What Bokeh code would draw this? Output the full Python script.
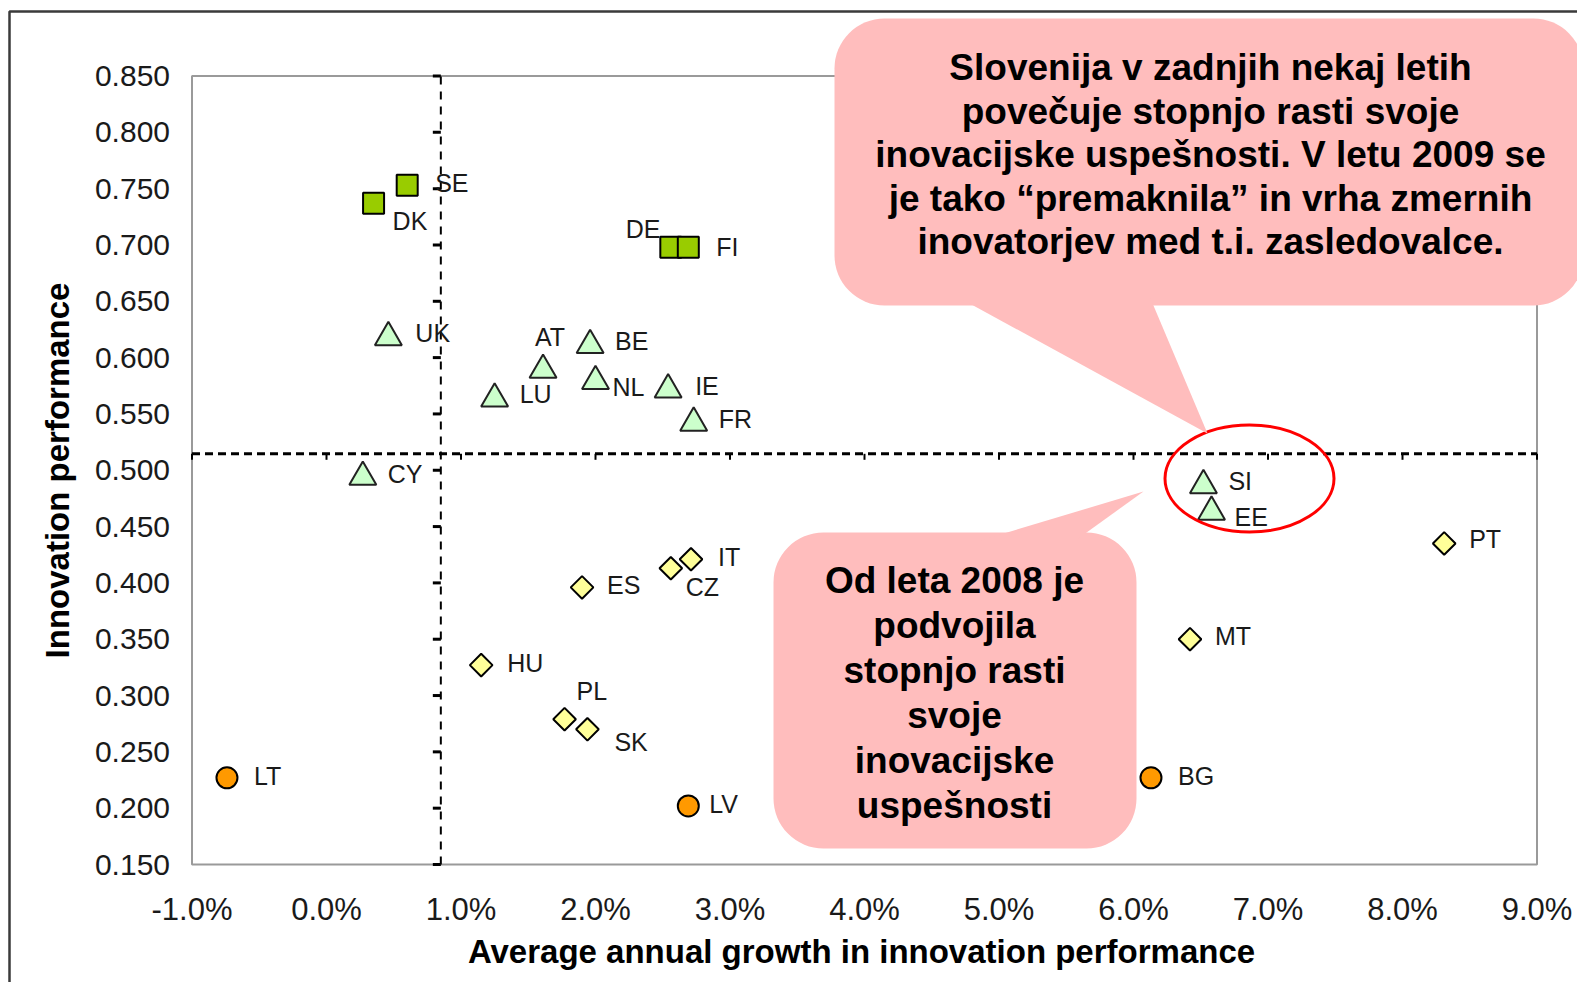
import numpy as np
from bokeh.plotting import figure
from bokeh.models import (Range1d, FixedTicker, PrintfTickFormatter, BoxAnnotation,
                          PolyAnnotation, Label, ColumnDataSource)
from bokeh.core.properties import value
from bokeh.embed import file_html
from bokeh.resources import INLINE

# ---------------- data ----------------
leader_names = ["SE", "DK", "DE", "FI"]
leader_growth = [0.60, 0.35, 2.56, 2.69]
leader_perf = [0.753, 0.737, 0.698, 0.698]

follower_names = ["UK", "AT", "BE", "LU", "NL", "IE", "FR", "CY", "SI", "EE"]
follower_growth = [0.46, 1.61, 1.96, 1.25, 2.00, 2.54, 2.73, 0.27, 6.52, 6.58]
follower_perf = [0.618, 0.589, 0.611, 0.5635, 0.579, 0.5715, 0.542, 0.494, 0.4865, 0.463]

moderate_names = ["PT", "MT", "IT", "CZ", "ES", "HU", "PL", "SK"]
moderate_growth = [8.31, 6.42, 2.71, 2.56, 1.90, 1.15, 1.77, 1.94]
moderate_perf = [0.435, 0.350, 0.421, 0.413, 0.396, 0.327, 0.279, 0.270]

modest_names = ["LT", "LV", "BG"]
modest_growth = [-0.74, 2.69, 6.13]
modest_perf = [0.227, 0.202, 0.227]

eu_avg_growth = 0.85
eu_avg_perf = 0.5146

x_ticks = [-1, 0, 1, 2, 3, 4, 5, 6, 7, 8, 9]
y_ticks = [0.15, 0.20, 0.25, 0.30, 0.35, 0.40, 0.45, 0.50, 0.55, 0.60, 0.65, 0.70, 0.75, 0.80, 0.85]

x_title = "Average annual growth in innovation performance"
y_title = "Innovation performance"

callout_top_lines = ["Slovenija v zadnjih nekaj letih",
                     "povečuje stopnjo rasti svoje",
                     "inovacijske uspešnosti. V letu 2009 se",
                     "je tako “premaknila” in vrha zmernih",
                     "inovatorjev med t.i. zasledovalce."]
callout_bottom_lines = ["Od leta 2008 je", "podvojila", "stopnjo rasti", "svoje",
                        "inovacijske", "uspešnosti"]

# ---------------- label offsets (screen px, style only) ----------------
label_offsets = {
    "SE": (28, -2), "DK": (19, 18), "DE": (-45, -18), "FI": (28, 0),
    "UK": (27, -4), "AT": (-8, -33), "BE": (25, -4), "LU": (25, -5), "NL": (17, 6),
    "IE": (27, -4), "FR": (25, -4), "CY": (25, -3), "SI": (25, -4), "EE": (23, 5),
    "PT": (25, -4), "MT": (25, -3), "IT": (27, -2), "CZ": (15, 19), "ES": (25, -2),
    "HU": (26, -2), "PL": (12, -28), "SK": (27, 13), "LT": (27, -2), "LV": (21, -2),
    "BG": (27, -2),
}

# ---------------- geometry (canvas pixels) ----------------
W, H = 1577, 982
X0, X1 = -1.0, 9.0
Y0, Y1 = 0.15, 0.85
PL, PR, PT, PB = 191.5, 1536.5, 75.5, 864.0   # plot box edges on canvas


def px_x(cx):
    return X0 + (cx - PL) / (PR - PL) * (X1 - X0)


def px_y(cy):
    return Y1 - (cy - PT) / (PB - PT) * (Y1 - Y0)


FONT = "Liberation Sans"
TXT = "#1a1a1a"
PINK = "#FFBDBD"

p = figure(width=W, height=H, output_backend="svg", toolbar_location=None,
           x_range=Range1d(px_x(0), px_x(W)), y_range=Range1d(px_y(H), px_y(0)),
           min_border_left=0, min_border_right=0, min_border_top=0, min_border_bottom=0)
p.title.visible = False
p.outline_line_color = None
p.xgrid.visible = False
p.ygrid.visible = False
p.background_fill_color = "white"
p.border_fill_color = "white"

# outer picture frame
p.add_layout(BoxAnnotation(left=px_x(9), right=px_x(W + 200), top=px_y(11), bottom=px_y(H + 200),
                           fill_alpha=0, line_color="#3a3a3a", line_alpha=1, line_width=2.5,
                           level="underlay"))
# plot box
p.add_layout(BoxAnnotation(left=X0, right=X1, top=Y1, bottom=Y0, fill_alpha=0,
                           line_color="#9a9a9a", line_alpha=1, line_width=2, level="underlay"))

# axes (labels only), fixed at the plot box edges
for ax in (p.xaxis[0], p.yaxis[0]):
    ax.axis_line_color = None
    ax.major_tick_out = 0
    ax.major_tick_in = 0
    ax.minor_tick_out = 0
    ax.minor_tick_in = 0
    ax.major_label_text_font = FONT
    ax.major_label_text_color = TXT

p.xaxis.fixed_location = Y0
p.xaxis.ticker = FixedTicker(ticks=x_ticks)
p.xaxis.formatter = PrintfTickFormatter(format="%.1f%%")
p.xaxis.major_label_standoff = 27
p.xaxis.major_label_text_font_size = "31px"

p.yaxis.fixed_location = X0
p.yaxis.ticker = FixedTicker(ticks=y_ticks)
p.yaxis.formatter = PrintfTickFormatter(format="%.3f")
p.yaxis.major_label_standoff = 22
p.yaxis.major_label_text_font_size = "30px"

# axis titles
p.add_layout(Label(x=px_x(861), y=px_y(951), text=x_title, text_align="center",
                   text_baseline="middle", text_font=FONT, text_font_style="bold",
                   text_font_size="33px", text_color="black"))
p.add_layout(Label(x=px_x(57), y=px_y(470), text=y_title, angle=np.pi / 2, text_align="center",
                   text_baseline="middle", text_font=FONT, text_font_style="bold",
                   text_font_size="33px", text_color="black"))

# crossing (dashed) axes at the EU averages
p.segment(x0=[eu_avg_growth], y0=[Y0], x1=[eu_avg_growth], y1=[Y1], line_color="black",
          line_width=2, line_dash="8 7")
p.segment(x0=[X0], y0=[eu_avg_perf], x1=[X1], y1=[eu_avg_perf], line_color="black",
          line_width=3, line_dash="8 5")
p.ray(x=[eu_avg_growth] * len(y_ticks), y=y_ticks, length=8, length_units="screen",
      angle=np.pi, line_color="black", line_width=3)
p.ray(x=x_ticks, y=[eu_avg_perf] * len(x_ticks), length=6, length_units="screen",
      angle=-np.pi / 2, line_color="black", line_width=2)

# markers
groups = [
    (leader_names, leader_growth, leader_perf, dict(marker="square", size=21, fill_color="#99CC00",
                                                     line_color="black", line_width=2)),
    (follower_names, follower_growth, follower_perf, dict(marker="triangle", size=27, fill_color="#CCFFCC",
                                                           line_color="#222222", line_width=2)),
    (moderate_names, moderate_growth, moderate_perf, dict(marker="square", angle=np.pi / 4, size=16,
                                                           fill_color="#FFFF99", line_color="black",
                                                           line_width=2)),
    (modest_names, modest_growth, modest_perf, dict(marker="circle", size=21, fill_color="#FF9900",
                                                     line_color="black", line_width=2)),
]
for names, gx, gy, style in groups:
    src = ColumnDataSource(dict(x=gx, y=gy, name=names,
                                dx=[label_offsets[n][0] for n in names],
                                dy=[label_offsets[n][1] for n in names]))
    p.scatter(x="x", y="y", source=src, **style)
    p.text(x="x", y="y", text="name", x_offset="dx", y_offset="dy", source=src,
           text_font=value(FONT), text_font_size="25px", text_color=TXT,
           text_align="left", text_baseline="middle")

# highlight ellipse around SI / EE
p.ellipse(x=[px_x(1249)], y=[px_y(478)], width=169, height=107, width_units="screen",
          height_units="screen", fill_color=None, line_color="#FF0000", line_width=3)

# callouts
p.add_layout(BoxAnnotation(left=px_x(834), right=px_x(1583), top=px_y(18), bottom=px_y(305),
                           fill_color=PINK, fill_alpha=1, line_color=None, border_radius=50))
p.add_layout(PolyAnnotation(xs=[px_x(960), px_x(1150), px_x(1207)],
                            ys=[px_y(298), px_y(298), px_y(433)],
                            fill_color=PINK, fill_alpha=1, line_color=None))
p.add_layout(BoxAnnotation(left=px_x(773), right=px_x(1136), top=px_y(532), bottom=px_y(848),
                           fill_color=PINK, fill_alpha=1, line_color=None, border_radius=50))
p.add_layout(PolyAnnotation(xs=[px_x(980), px_x(1075), px_x(1143)],
                            ys=[px_y(540), px_y(540), px_y(491)],
                            fill_color=PINK, fill_alpha=1, line_color=None))

for i, line in enumerate(callout_top_lines):
    p.add_layout(Label(x=px_x(1210), y=px_y(67 + 43.5 * i), text=line, text_align="center",
                       text_baseline="middle", text_font=FONT, text_font_style="bold",
                       text_font_size="37px", text_color="black"))
for i, line in enumerate(callout_bottom_lines):
    p.add_layout(Label(x=px_x(954), y=px_y(580 + 45 * i), text=line, text_align="center",
                       text_baseline="middle", text_font=FONT, text_font_style="bold",
                       text_font_size="37px", text_color="black"))

open("out.html", "w").write(file_html(p, INLINE))
